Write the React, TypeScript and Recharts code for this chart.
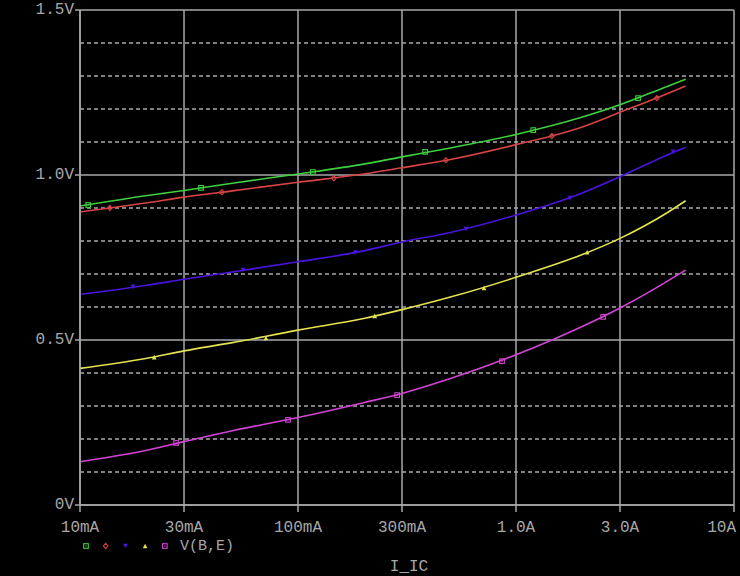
import React from "react";
import { ComposedChart, Line, XAxis, YAxis, CartesianGrid, ReferenceLine } from "recharts";

// Collector current sweep (A)
const currents = [0.01, 0.02, 0.03, 0.05, 0.1, 0.2, 0.3, 0.5, 1, 2, 3, 5, 6];

// V(B,E) traces (V)
const greenV = [0.906, 0.937, 0.953, 0.975, 1.003, 1.033, 1.055, 1.082, 1.123, 1.175, 1.213, 1.27, 1.29];
const redV = [0.888, 0.915, 0.933, 0.952, 0.978, 1.003, 1.022, 1.047, 1.092, 1.145, 1.19, 1.248, 1.27];
const blueV = [0.638, 0.665, 0.684, 0.706, 0.737, 0.77, 0.797, 0.826, 0.879, 0.945, 0.995, 1.062, 1.084];
const yellowV = [0.414, 0.444, 0.467, 0.492, 0.53, 0.565, 0.592, 0.63, 0.69, 0.758, 0.808, 0.888, 0.922];
const magentaV = [0.131, 0.165, 0.192, 0.225, 0.265, 0.31, 0.338, 0.383, 0.455, 0.54, 0.597, 0.68, 0.712];

// Trace markers (current, voltage)
const greenMarkI = [0.0109, 0.0359, 0.117, 0.383, 1.2, 3.63];
const greenMarkV = [0.909, 0.961, 1.009, 1.07, 1.136, 1.233];
const redMarkI = [0.0137, 0.0448, 0.146, 0.477, 1.46, 4.43];
const redMarkV = [0.9, 0.948, 0.99, 1.045, 1.118, 1.233];
const blueMarkI = [0.0175, 0.0559, 0.183, 0.59, 1.77, 5.25];
const blueMarkV = [0.661, 0.712, 0.765, 0.836, 0.93, 1.07];
const yellowMarkI = [0.0219, 0.0713, 0.225, 0.713, 2.12];
const yellowMarkV = [0.448, 0.506, 0.573, 0.658, 0.766];
const magentaMarkI = [0.0276, 0.09, 0.285, 0.863, 2.51];
const magentaMarkV = [0.188, 0.258, 0.333, 0.436, 0.57];

// Axes
const xTicks = [0.01, 0.03, 0.1, 0.3, 1, 3, 10];
const xTickLabels = ["10mA", "30mA", "100mA", "300mA", "1.0A", "3.0A", "10A"];
const yTicks = [0, 0.5, 1.0, 1.5];
const yTickLabels = ["0V", "0.5V", "1.0V", "1.5V"];
const yMinor = [0.1, 0.2, 0.3, 0.4, 0.6, 0.7, 0.8, 0.9, 1.1, 1.2, 1.3, 1.4];
const legendLabel = "V(B,E)";
const xTitle = "I_IC";

const FONT = "'Liberation Mono', 'DejaVu Sans Mono', monospace";
const TEXT = "#a8a8a8";
const GRID = "#a9a9a9";

const COLORS = {
  green: "#3fd03f",
  red: "#d84444",
  blue: "#4a14e0",
  yellow: "#e4e450",
  magenta: "#d444d4",
};

const rows = (vals: number[]) => currents.map((i, k) => ({ i, v: vals[k] }));
const marks = (is: number[], vs: number[]) => is.map((i, k) => ({ i, v: vs[k] }));

type Kind = "square" | "diamond" | "down" | "up" | "squareDot";

const drawMarker = (kind: Kind, color: string, cx: number, cy: number, key?: any) => {
  const s = 2.3;
  if (kind === "square" || kind === "squareDot") {
    return (
      <g key={key}>
        <rect x={cx - s} y={cy - s} width={2 * s} height={2 * s} fill="none" stroke={color} strokeWidth={1.1} />
        <rect x={cx - 0.6} y={cy - 0.6} width={1.2} height={1.2} fill={color} />
      </g>
    );
  }
  if (kind === "diamond") {
    return (
      <polygon
        key={key}
        points={`${cx},${cy - s - 0.3} ${cx + s},${cy} ${cx},${cy + s + 0.3} ${cx - s},${cy}`}
        fill="none"
        stroke={color}
        strokeWidth={1.1}
      />
    );
  }
  if (kind === "down") {
    return <polygon key={key} points={`${cx - s},${cy - s} ${cx + s},${cy - s} ${cx},${cy + s}`} fill={color} />;
  }
  return <polygon key={key} points={`${cx - s},${cy + s} ${cx + s},${cy + s} ${cx},${cy - s}`} fill={color} />;
};

const makeDot = (kind: Kind, color: string) => (props: any) => {
  const { cx, cy, index } = props;
  if (cx == null || cy == null) return <g key={`n${index}`} />;
  return drawMarker(kind, color, cx, cy, `m${index}`);
};

const XTick = (props: any) => {
  const { x, y, payload, index } = props;
  const idx = xTicks.indexOf(payload.value);
  const label = xTickLabels[idx >= 0 ? idx : index];
  const last = idx === xTicks.length - 1;
  return (
    <text
      x={last ? x + 2 : x}
      y={y + 14}
      textAnchor={last ? "end" : "middle"}
      dominantBaseline="central"
      fontFamily={FONT}
      fontSize={16}
      fill={TEXT}
    >
      {label}
    </text>
  );
};

const YTick = (props: any) => {
  const { x, y, payload, index } = props;
  const idx = yTicks.indexOf(payload.value);
  const label = yTickLabels[idx >= 0 ? idx : index];
  return (
    <text x={x + 1} y={y} textAnchor="end" dominantBaseline="central" fontFamily={FONT} fontSize={16} fill={TEXT}>
      {label}
    </text>
  );
};

const legendKinds: [Kind, string][] = [
  ["square", COLORS.green],
  ["diamond", COLORS.red],
  ["down", COLORS.blue],
  ["up", COLORS.yellow],
  ["squareDot", COLORS.magenta],
];

const BottomLabel = (props: any) => {
  const vb = props.viewBox || { x: 80, y: 505, width: 654, height: 71 };
  const x0 = vb.x;
  const y0 = vb.y;
  const legendY = y0 + 41;
  return (
    <g>
      {legendKinds.map(([k, c], n) => drawMarker(k, c, x0 + 6 + n * 19.7, legendY, `lg${n}`))}
      <text x={x0 + 100} y={legendY} dominantBaseline="central" fontFamily={FONT} fontSize={15} fill={TEXT}>
        {legendLabel}
      </text>
      <text
        x={x0 + 329}
        y={y0 + 62}
        textAnchor="middle"
        dominantBaseline="central"
        fontFamily={FONT}
        fontSize={16}
        fill={TEXT}
      >
        {xTitle}
      </text>
    </g>
  );
};

export default function App() {
  const series: [string, number[], number[], number[], Kind][] = [
    [COLORS.green, greenV, greenMarkI, greenMarkV, "square"],
    [COLORS.red, redV, redMarkI, redMarkV, "diamond"],
    [COLORS.blue, blueV, blueMarkI, blueMarkV, "down"],
    [COLORS.yellow, yellowV, yellowMarkI, yellowMarkV, "up"],
    [COLORS.magenta, magentaV, magentaMarkI, magentaMarkV, "squareDot"],
  ];
  return (
    <div style={{ position: "fixed", left: 0, top: 0, width: 740, height: 576, background: "#000" }}>
      <ComposedChart width={740} height={576} margin={{ top: 10, right: 6, bottom: 0, left: 0 }}>
        <CartesianGrid stroke={GRID} strokeWidth={1.5} horizontal={true} vertical={true} />
        {yMinor.map((v) => (
          <ReferenceLine key={v} y={v} stroke={GRID} strokeWidth={1.3} strokeDasharray="4 3" />
        ))}
        <XAxis
          dataKey="i"
          type="number"
          scale="log"
          domain={[0.01, 10]}
          ticks={xTicks}
          allowDataOverflow
          height={71}
          tickSize={7}
          stroke={GRID}
          strokeWidth={1.5}
          tick={<XTick />}
          label={{ content: <BottomLabel /> }}
          interval={0}
        />
        <YAxis
          type="number"
          domain={[0, 1.5]}
          ticks={yTicks}
          width={80}
          tickSize={5}
          stroke={GRID}
          strokeWidth={1.5}
          tick={<YTick />}
          allowDataOverflow
          interval={0}
        />
        {series.map(([c, vals], n) => (
          <Line
            key={`l${n}`}
            data={rows(vals)}
            dataKey="v"
            type="monotone"
            stroke={c}
            strokeWidth={1.6}
            dot={false}
            isAnimationActive={false}
          />
        ))}
        {series.map(([c, , mi, mv, k], n) => (
          <Line
            key={`m${n}`}
            data={marks(mi, mv)}
            dataKey="v"
            stroke="none"
            dot={makeDot(k, c)}
            activeDot={false}
            isAnimationActive={false}
          />
        ))}
      </ComposedChart>
    </div>
  );
}
